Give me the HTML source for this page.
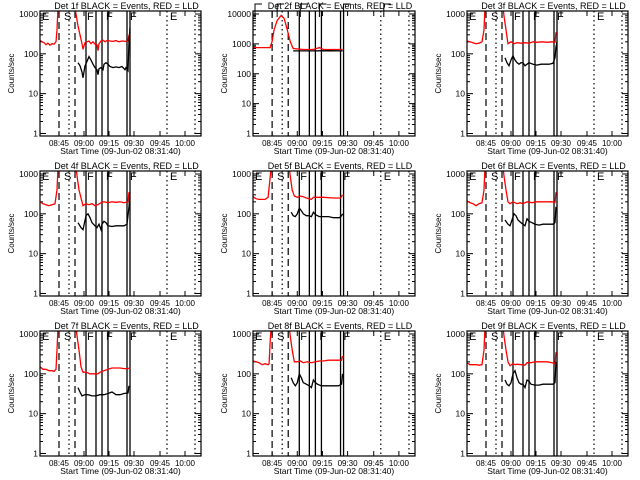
<!DOCTYPE html>
<html><head><meta charset="utf-8">
<style>
html,body{margin:0;padding:0;background:#fff;}
svg{display:block;font-family:"Liberation Sans",sans-serif;}
text{fill:#000;}
</style></head>
<body>
<svg id="chart" width="640" height="480" viewBox="0 0 640 480" xmlns="http://www.w3.org/2000/svg"></svg>
<script>
// ---- data (time in plot units from start of plot window, value in counts/sec) ----
const detNames = ["1f","2f","3f","4f","5f","6f","7f","8f","9f"];
const xTickTimes = [19,44,69,94,120,145];
const xTickLabels = ["08:45","09:00","09:15","09:30","09:45","10:00"];
const markerDashed = [19,35];
const markerDottedEarly = [29];
const markerSolid = [46,56,62,68,87,90];
const markerDottedLate = [127,155];
const markerLetters = ["E","S","F","F","F","E"];
const markerLetterTimes = [2,24,47,66,90,130];

const red1 = [[0,220],[2,200],[4,190],[6,170],[8,185],[10,165],[12,180],[14,175],[16,200],[17,400],[18,1500],[35,1500],[36,1000],[38,500],[40,300],[42,180],[43,130],[45,190],[47,200],[49,210],[51,180],[53,200],[55,175],[57,170],[58,120],[59,180],[61,210],[63,220],[65,200],[67,215],[70,210],[73,205],[76,215],[79,200],[82,210],[85,205],[88,210],[89,300]];
const blk1 = [[38,60],[40,50],[42,35],[43,25],[45,50],[47,65],[49,85],[51,70],[53,55],[55,45],[57,40],[58,30],[59,42],[61,45],[63,40],[64,55],[66,60],[68,55],[70,48],[73,45],[76,47],[79,45],[82,48],[85,40],[86,45],[88,38],[89,200],[90,450]];
const red2 = [[0,750],[17,750],[19,1200],[21,3000],[24,6000],[28,9000],[31,7000],[34,3000],[37,1200],[40,700],[50,650],[60,650],[63,700],[66,750],[70,650],[80,650],[89,650]];
const blk2 = [[40,580],[60,580],[75,590],[89,580]];
const red3 = [[0,210],[3,200],[6,190],[9,180],[12,185],[15,200],[17,400],[18,1500],[36,1500],[37,900],[39,400],[41,180],[44,200],[47,180],[50,190],[54,185],[58,190],[62,185],[66,200],[70,195],[75,200],[80,195],[85,200],[88,195],[89,350]];
const blk3 = [[38,80],[40,60],[42,50],[44,70],[46,90],[48,70],[50,60],[52,55],[54,60],[56,60],[58,50],[60,55],[62,60],[66,55],[70,52],[74,55],[78,55],[82,55],[86,58],[88,80],[89,150],[90,200]];
const red4 = [[0,200],[3,180],[6,170],[9,160],[12,170],[15,180],[17,400],[18,1500],[36,1500],[37,900],[39,400],[42,200],[43,160],[46,180],[49,170],[52,180],[55,160],[58,170],[61,190],[64,200],[68,190],[72,200],[76,195],[80,200],[84,190],[88,200],[89,350]];
const blk4 = [[38,60],[41,45],[43,40],[46,90],[48,100],[50,80],[52,60],[55,50],[57,45],[59,55],[61,40],[62,55],[64,65],[66,60],[68,50],[72,48],[76,50],[80,50],[84,50],[87,55],[89,150],[90,350]];
const red5 = [[0,270],[3,240],[6,230],[9,230],[12,230],[15,260],[17,800],[18,1500],[36,1500],[37,900],[39,400],[41,280],[44,260],[47,280],[50,270],[53,250],[56,240],[58,230],[60,260],[65,260],[70,260],[80,250],[87,250],[89,300]];
const blk5 = [[38,110],[40,90],[42,85],[44,100],[46,140],[48,120],[50,100],[53,90],[56,90],[58,85],[60,110],[62,95],[66,85],[70,85],[75,85],[80,80],[86,80],[88,90],[89,100]];
const red6 = [[0,210],[3,190],[6,180],[9,160],[12,180],[15,190],[17,400],[18,1500],[36,1500],[37,900],[39,400],[41,200],[43,180],[46,200],[48,190],[50,180],[53,190],[56,180],[60,200],[65,190],[70,200],[75,200],[80,200],[85,200],[88,190],[89,350]];
const blk6 = [[38,70],[41,55],[43,50],[45,70],[47,100],[49,90],[51,70],[54,60],[56,55],[58,50],[60,75],[62,65],[65,60],[68,55],[72,52],[76,55],[80,55],[86,55],[88,60],[89,150]];
const red7 = [[0,150],[3,130],[6,130],[9,120],[12,120],[14,115],[16,130],[17,400],[18,1500],[36,1500],[37,900],[39,400],[41,150],[43,110],[46,110],[50,100],[55,100],[58,100],[60,110],[64,120],[68,130],[72,140],[76,140],[80,140],[84,135],[88,135],[89,140]];
const blk7 = [[38,45],[40,35],[42,28],[45,30],[48,30],[52,28],[56,28],[60,30],[64,30],[68,32],[72,35],[76,30],[80,30],[84,32],[88,33],[89,50]];
const red8 = [[0,210],[3,200],[6,190],[9,170],[12,180],[15,170],[16,180],[17,600],[18,1500],[36,1500],[37,900],[39,400],[41,200],[44,200],[47,210],[50,190],[54,200],[58,190],[62,200],[66,210],[70,210],[75,220],[80,220],[85,220],[88,220],[89,280]];
const blk8 = [[38,80],[40,60],[42,50],[44,60],[46,100],[48,80],[50,60],[53,55],[56,50],[58,45],[60,70],[62,60],[64,55],[68,50],[72,50],[76,50],[80,50],[85,50],[88,55],[89,100]];
const red9 = [[0,190],[3,170],[6,170],[9,170],[12,165],[15,170],[17,400],[18,1500],[36,1500],[37,900],[39,400],[41,200],[43,160],[46,180],[48,170],[50,175],[54,170],[58,165],[60,190],[64,190],[68,200],[72,200],[76,200],[80,200],[85,190],[88,180],[89,350]];
const blk9 = [[38,70],[40,55],[42,50],[44,60],[46,100],[48,120],[50,80],[52,60],[54,55],[56,55],[58,45],[60,70],[62,65],[64,55],[68,52],[72,52],[76,55],[80,55],[86,55],[88,60],[89,200]];
const redSeries = [red1,red2,red3,red4,red5,red6,red7,red8,red9];
const blackSeries = [blk1,blk2,blk3,blk4,blk5,blk6,blk7,blk8,blk9];
const yDecades = [3,4,3,3,3,3,3,3,3];

// ---- drawing ----
const NS = "http://www.w3.org/2000/svg";
const svg = document.getElementById("chart");
function mk(tag, attrs, parent){
  const e = document.createElementNS(NS, tag);
  for (const k in attrs) e.setAttribute(k, attrs[k]);
  (parent||svg).appendChild(e);
  return e;
}
const colLeft = [40,253,467], colRight = [201,415,628];
const rowTop = [11,171,331];
const boxH = 125;

for (let p=0;p<9;p++){
  const c = p%3, r = Math.floor(p/3);
  const L = colLeft[c], R = colRight[c], T = rowTop[r], B = T+boxH;
  const dec = yDecades[p];
  const pxDec = (B-2.5-(T+3))/dec;
  const yBase = B-2.5;
  const xs = t => L + t*(R-L)/161;
  const ys = v => yBase - Math.log10(v)*pxDec;
  const g = mk("g",{});
  
  
  const clipId = "clip"+p;
  const cp = mk("clipPath",{id:clipId},g);
  mk("rect",{x:L,y:T,width:R-L,height:B-T},cp);

  const title = mk("text",{x:(L+R)/2+6,y:T-2,"font-size":"9","text-anchor":"middle"},g);
  title.textContent = "Det "+detNames[p]+" BLACK = Events, RED = LLD";
  
  

  const yl = mk("text",{x:0,y:0,"font-size":"8","text-anchor":"middle",transform:"translate("+(L-26)+","+((T+B)/2)+") rotate(-90)"},g);
  yl.textContent = "Counts/sec";
  
  

  const xl = mk("text",{x:(L+R)/2,y:B+18,"font-size":"8.5","text-anchor":"middle"},g);
  xl.textContent = "Start Time (09-Jun-02 08:31:40)";
  
  

  for (let d=0; d<=dec; d++){
    const y = ys(Math.pow(10,d));
    mk("line",{x1:L,x2:L+6,y1:y,y2:y,stroke:"#000","stroke-width":1},g);
    mk("line",{x1:R-6,x2:R,y1:y,y2:y,stroke:"#000","stroke-width":1},g);
    const tl = mk("text",{x:L-2,y:y+3,"font-size":"8.5","text-anchor":"end"},g);
    tl.textContent = String(Math.pow(10,d));
    
    
    if (d<dec) for (let m=2;m<=9;m++){
      const ym = ys(m*Math.pow(10,d));
      mk("line",{x1:L,x2:L+3,y1:ym,y2:ym,stroke:"#000","stroke-width":1},g);
      mk("line",{x1:R-3,x2:R,y1:ym,y2:ym,stroke:"#000","stroke-width":1},g);
    }
  }
  xTickTimes.forEach((t,i)=>{
    const x = xs(t);
    mk("line",{x1:x,x2:x,y1:B,y2:B-5,stroke:"#000","stroke-width":1},g);
    mk("line",{x1:x,x2:x,y1:T,y2:T+5,stroke:"#000","stroke-width":1},g);
    const tl = mk("text",{x:x,y:B+10,"font-size":"8","text-anchor":"middle"},g);
    tl.textContent = xTickLabels[i];
    
    
  });

  const inner = mk("g",{"clip-path":"url(#"+clipId+")"},g);
  markerDashed.forEach(t=>mk("line",{x1:xs(t),x2:xs(t),y1:T,y2:B,stroke:"#000","stroke-width":1.2,"stroke-dasharray":"7,4"},inner));
  markerDottedEarly.concat(markerDottedLate).forEach(t=>mk("line",{x1:xs(t),x2:xs(t),y1:T,y2:B,stroke:"#000","stroke-width":1.2,"stroke-dasharray":"1.5,3"},inner));
  markerSolid.forEach(t=>mk("line",{x1:xs(t),x2:xs(t),y1:T,y2:B,stroke:"#000","stroke-width":1.3},inner));

  const toPts = s => s.map(d=>xs(d[0]).toFixed(1)+","+ys(d[1]).toFixed(1)).join(" ");
  const rl = mk("polyline",{points:toPts(redSeries[p]),fill:"none",stroke:"#ff0000","stroke-width":1.3},inner);
  
  
  const bl = mk("polyline",{points:toPts(blackSeries[p]),fill:"none",stroke:"#000","stroke-width":1.3},inner);
  
  

  markerLetterTimes.forEach((t,i)=>{
    if (dec===4){
      const x = xs(t);
      mk("path",{d:"M"+x+","+(T+6)+" V"+(T-7)+" H"+(x+7),fill:"none",stroke:"#000","stroke-width":1},g);
    } else {
      const lt = mk("text",{x:xs(t),y:T+9,"font-size":"11"},g);
      lt.textContent = markerLetters[i];
      
      
    }
  });

  const box = mk("rect",{x:L,y:T,width:R-L,height:B-T,fill:"none",stroke:"#000","stroke-width":1.2},g);
  
  
}
</script>
</body></html>
